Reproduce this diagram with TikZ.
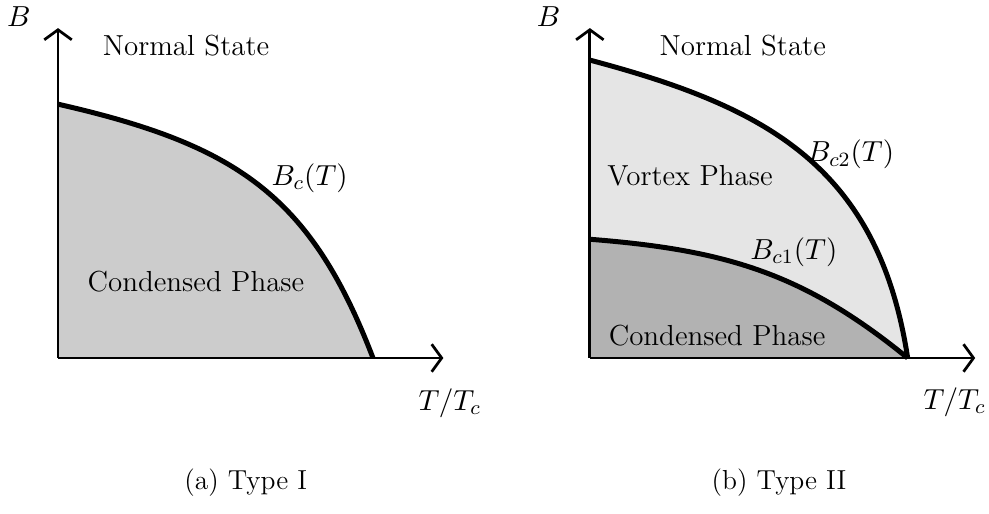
\RequirePackage{fix-cm}
\documentclass[tikz,border=0pt]{standalone}
\usepackage{amsmath}
\usepackage{tikz}
\usetikzlibrary{arrows.meta}

\begin{document}
\begin{tikzpicture}[>={Straight Barb[length=4pt,width=11pt]},
    every node/.style={font=\fontsize{11.6}{14}\selectfont},
    caption/.style={font=\fontsize{11}{13}\selectfont},
    axis/.style={line width=1.1pt, ->},
    curve/.style={line width=2pt}]
  \useasboundingbox (-0.816,-2.194) rectangle (13.094,5.035);

  % type I
  \fill[gray!40] (0,0) -- (0,3.57) .. controls (2.5,3.0) and (3.55,2.3) .. (4.43,0) -- cycle;
  \draw[curve] (0,3.57) .. controls (2.5,3.0) and (3.55,2.3) .. (4.43,0);
  \draw[axis] (0,0) -- (5.42,0);
  \draw[axis] (0,0) -- (0,4.64);
  \node (bI) at (-0.55,4.80) {$B$};
  \node (tI) at (5.51,-0.63) {$T/T_c$};
  \node (normI) at (1.80,4.40) {Normal State};
  \node (condI) at (1.94,1.07) {Condensed Phase};
  \node (bcI) at (3.54,2.53) {$B_c(T)$};
  \node[caption] (capI) at (2.64,-1.76) {(a) Type I};

  % type II
  \begin{scope}[xshift=7.48cm]
    \fill[gray!20] (0,0) -- (0,4.19) .. controls (2.4,3.55) and (4.05,2.75) .. (4.47,0) -- cycle;
    \fill[gray!60] (0,0) -- (0,1.67) .. controls (1.9,1.52) and (3.0,1.2) .. (4.47,0) -- cycle;
    \draw[curve] (0,4.19) .. controls (2.4,3.55) and (4.05,2.75) .. (4.47,0);
    \draw[curve] (0,1.67) .. controls (1.9,1.52) and (3.0,1.2) .. (4.47,0);
    \draw[axis] (0,0) -- (5.42,0);
    \draw[axis] (0,0) -- (0,4.64);
    \node (bII) at (-0.58,4.80) {$B$};
    \node (tII) at (5.13,-0.62) {$T/T_c$};
    \node (normII) at (2.15,4.40) {Normal State};
    \node (vortII) at (1.41,2.56) {Vortex Phase};
    \node (condII) at (1.79,0.32) {Condensed Phase};
    \node (bctwo) at (3.67,2.86) {$B_{c2}(T)$};
    \node (bcone) at (2.87,1.49) {$B_{c1}(T)$};
    \node[caption] (capII) at (2.66,-1.76) {(b) Type II};
  \end{scope}
\end{tikzpicture}
\end{document}
